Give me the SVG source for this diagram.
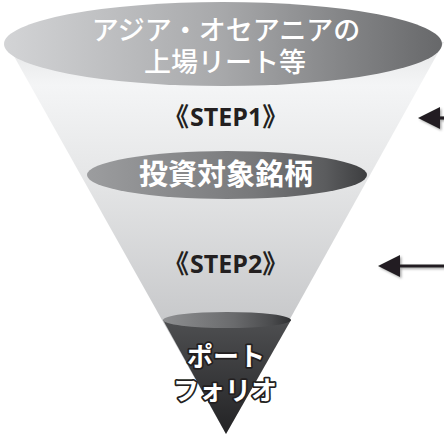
<svg xmlns="http://www.w3.org/2000/svg" width="444" height="437" viewBox="0 0 444 437">
  <defs>
    <style>
      .jp { font-family: "Noto Sans CJK JP", "Noto Sans", sans-serif; }
      .white { fill: #ffffff; text-anchor: middle; }
      .step { font-family: "Open Sans", "Noto Sans CJK JP", sans-serif; font-weight: 700; font-size: 25px; fill: #231f20; }
      .br { font-family: "Noto Sans CJK JP", sans-serif; font-weight: 700; font-size: 26px; }
      .outlined { fill: #ffffff; stroke: #231f20; stroke-width: 3.5; paint-order: stroke; stroke-linejoin: round; text-anchor: middle; }
      .conn { stroke: #231f20; stroke-width: 3.2; fill: none; }
    </style>
    <linearGradient id="funnelGrad" x1="0" y1="42" x2="0" y2="330" gradientUnits="userSpaceOnUse">
      <stop offset="0" stop-color="#e4e5e6"/>
      <stop offset="0.15" stop-color="#f4f5f6"/>
      <stop offset="0.45" stop-color="#e6e7e8"/>
      <stop offset="1" stop-color="#c6c7c9"/>
    </linearGradient>
    <linearGradient id="topGrad" x1="0" y1="0" x2="1" y2="0">
      <stop offset="0" stop-color="#d3d4d6"/>
      <stop offset="0.5" stop-color="#a7a8aa"/>
      <stop offset="1" stop-color="#67686a"/>
    </linearGradient>
    <linearGradient id="midGrad" x1="0" y1="0" x2="1" y2="0">
      <stop offset="0" stop-color="#9c9d9f"/>
      <stop offset="0.6" stop-color="#77787a"/>
      <stop offset="0.85" stop-color="#5b5c5e"/>
      <stop offset="1" stop-color="#3d3e40"/>
    </linearGradient>
    <linearGradient id="botGrad" x1="0" y1="0" x2="1" y2="0">
      <stop offset="0" stop-color="#8e8f91"/>
      <stop offset="0.55" stop-color="#6a6b6d"/>
      <stop offset="0.85" stop-color="#4a4b4d"/>
      <stop offset="1" stop-color="#2f3032"/>
    </linearGradient>
    <linearGradient id="coneGrad" x1="0" y1="320" x2="0" y2="434" gradientUnits="userSpaceOnUse">
      <stop offset="0" stop-color="#4e4f51"/>
      <stop offset="1" stop-color="#232325"/>
    </linearGradient>
    <filter id="shadow" filterUnits="userSpaceOnUse" x="0" y="0" width="444" height="437">
      <feDropShadow dx="1.5" dy="1.5" stdDeviation="1" flood-color="#000000" flood-opacity="0.35"/>
    </filter>
    <marker id="ah" markerUnits="userSpaceOnUse" markerWidth="24" markerHeight="24" refX="14" refY="11" orient="auto">
      <path d="M0,0 L22,11 L0,22 Z" fill="#231f20"/>
    </marker>
  </defs>

  <g id="funnel">
    <polygon points="6,42 444,42 226,434" fill="url(#funnelGrad)"/>
    <polygon points="163,320 291,320 226,434" fill="url(#coneGrad)"/>
  </g>

  <g id="node-universe">
    <ellipse cx="223" cy="44" rx="219" ry="42" fill="url(#topGrad)"/>
    <text class="jp white" font-size="27" font-weight="500"><tspan x="226" y="40">アジア・オセアニアの</tspan><tspan x="225" y="72">上場リート等</tspan></text>
  </g>

  <g id="label-step1">
    <text class="step" x="163" y="126"><tspan class="br">《</tspan><tspan dx="1">STEP1</tspan><tspan class="br">》</tspan></text>
  </g>

  <g id="node-targets">
    <ellipse cx="227" cy="175" rx="140" ry="24" fill="url(#midGrad)"/>
    <text class="jp white" x="226" y="185" font-size="29" font-weight="700">投資対象銘柄</text>
  </g>

  <g id="label-step2">
    <text class="step" x="163" y="273"><tspan class="br">《</tspan><tspan dx="1">STEP2</tspan><tspan class="br">》</tspan></text>
  </g>

  <g id="node-portfolio">
    <ellipse cx="227" cy="320" rx="64" ry="8" fill="url(#botGrad)"/>
    <text class="jp outlined" font-size="26" font-weight="700"><tspan x="226" y="366">ポート</tspan><tspan x="225" y="400">フォリオ</tspan></text>
  </g>

  <g id="connectors" filter="url(#shadow)">
    <line class="conn" x1="446" y1="118" x2="426" y2="118" marker-end="url(#ah)"/>
    <line class="conn" x1="446" y1="266" x2="386" y2="266" marker-end="url(#ah)"/>
  </g>
</svg>
